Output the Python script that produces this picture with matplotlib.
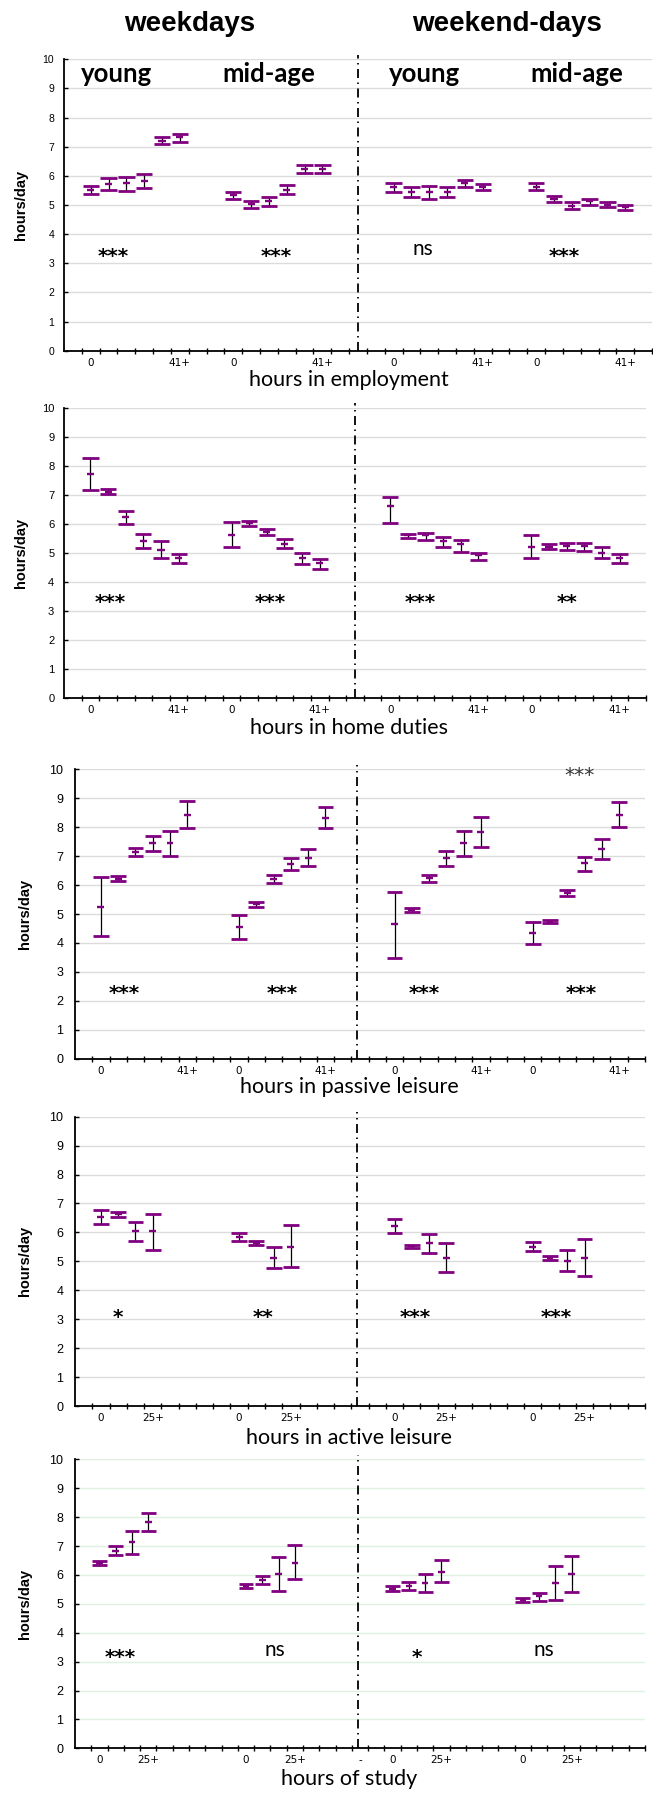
import numpy as np
import matplotlib.pyplot as plt

W, H = 653, 1794
PURPLE = '#800080'

# group order in every panel: young weekdays, mid-age weekdays, young weekend-days, mid-age weekend-days

# hours in employment (6 bands, 0 ... 41+)
emp_mean = [[5.51, 5.73, 5.75, 5.84, 7.21, 7.32],
            [5.33, 5.05, 5.14, 5.53, 6.24, 6.24],
            [5.61, 5.45, 5.46, 5.45, 5.74, 5.62],
            [5.62, 5.21, 4.98, 5.13, 5.01, 4.92]]
emp_lo = [[5.38, 5.53, 5.48, 5.58, 7.08, 7.17],
          [5.21, 4.89, 4.95, 5.38, 6.11, 6.11],
          [5.46, 5.26, 5.21, 5.26, 5.61, 5.51],
          [5.50, 5.10, 4.86, 5.01, 4.93, 4.82]]
emp_hi = [[5.66, 5.93, 5.96, 6.08, 7.35, 7.45],
          [5.43, 5.15, 5.27, 5.70, 6.38, 6.38],
          [5.76, 5.62, 5.65, 5.62, 5.86, 5.73],
          [5.76, 5.31, 5.09, 5.19, 5.10, 4.99]]

# hours in home duties (6 bands, 0 ... 41+)
home_mean = [[7.72, 7.11, 6.23, 5.42, 5.10, 4.84],
             [5.63, 6.02, 5.73, 5.32, 4.84, 4.64],
             [6.61, 5.61, 5.63, 5.41, 5.32, 4.94],
             [5.22, 5.21, 5.23, 5.23, 5.01, 4.84]]
home_lo = [[7.18, 7.03, 6.01, 5.18, 4.84, 4.67],
           [5.22, 5.92, 5.61, 5.17, 4.63, 4.45],
           [6.02, 5.53, 5.46, 5.20, 5.02, 4.76],
           [4.84, 5.14, 5.10, 5.08, 4.84, 4.67]]
home_hi = [[8.28, 7.20, 6.43, 5.65, 5.42, 4.97],
           [6.06, 6.11, 5.84, 5.49, 5.00, 4.79],
           [6.92, 5.65, 5.70, 5.56, 5.44, 4.99],
           [5.62, 5.31, 5.33, 5.33, 5.22, 4.98]]

# hours in passive leisure (6 bands, 0 ... 41+)
pas_mean = [[5.24, 6.21, 7.13, 7.45, 7.45, 8.42],
            [4.55, 5.35, 6.22, 6.74, 6.94, 8.32],
            [4.65, 5.14, 6.23, 6.92, 7.44, 7.82],
            [4.34, 4.73, 5.74, 6.75, 7.26, 8.42]]
pas_lo = [[4.23, 6.14, 6.99, 7.18, 7.02, 7.97],
          [4.12, 5.25, 6.08, 6.53, 6.65, 7.96],
          [3.49, 5.07, 6.11, 6.67, 6.99, 7.30],
          [3.95, 4.69, 5.63, 6.50, 6.89, 8.01]]
pas_hi = [[6.27, 6.33, 7.27, 7.70, 7.88, 8.91],
          [4.98, 5.41, 6.36, 6.92, 7.25, 8.70],
          [5.77, 5.22, 6.36, 7.17, 7.88, 8.36],
          [4.72, 4.79, 5.84, 6.96, 7.59, 8.86]]

# hours in active leisure (4 bands, 0 ... 25+)
act_mean = [[6.53, 6.62, 6.04, 6.04],
            [5.83, 5.63, 5.13, 5.51],
            [6.21, 5.52, 5.62, 5.13],
            [5.51, 5.13, 5.02, 5.13]]
act_lo = [[6.28, 6.53, 5.69, 5.40],
          [5.69, 5.56, 4.77, 4.80],
          [5.99, 5.47, 5.30, 4.63],
          [5.36, 5.05, 4.67, 4.49]]
act_hi = [[6.79, 6.71, 6.36, 6.64],
          [5.97, 5.69, 5.48, 6.26],
          [6.46, 5.58, 5.93, 5.62],
          [5.66, 5.20, 5.38, 5.76]]

# hours of study (4 bands, 0 ... 25+)
study_mean = [[6.42, 6.83, 7.13, 7.84],
              [5.62, 5.84, 6.04, 6.42],
              [5.52, 5.63, 5.73, 6.11],
              [5.13, 5.27, 5.73, 6.04]]
study_lo = [[6.34, 6.68, 6.74, 7.52],
            [5.55, 5.67, 5.46, 5.85],
            [5.46, 5.49, 5.41, 5.77],
            [5.06, 5.11, 5.13, 5.42]]
study_hi = [[6.49, 6.99, 7.52, 8.15],
            [5.67, 5.97, 6.61, 7.02],
            [5.62, 5.76, 6.04, 6.51],
            [5.20, 5.39, 6.32, 6.64]]

xlabels = ['hours in employment', 'hours in home duties', 'hours in passive leisure',
           'hours in active leisure', 'hours of study']
last_band = ['41+', '41+', '41+', '25+', '25+']
signif = [['***', '***', 'ns', '***'],
          ['***', '***', '***', '**'],
          ['***', '***', '***', '***'],
          ['*', '**', '***', '***'],
          ['***', 'ns', '*', 'ns']]

means = [emp_mean, home_mean, pas_mean, act_mean, study_mean]
los = [emp_lo, home_lo, pas_lo, act_lo, study_lo]
his = [emp_hi, home_hi, pas_hi, act_hi, study_hi]

# layout, in pixels of the 653x1794 figure
boxes = [(64, 652, 59.3, 350.7), (64, 646, 407.7, 698.3), (75, 645, 769.3, 1058.7),
         (75, 645, 1116.7, 1406.0), (75, 645, 1459.3, 1748.3)]
n_slots = [33, 33, 33, 33, 35]
starts = [[1, 9, 18, 26]] * 4 + [[1, 10, 19, 27]]
divider = [16.5, 16.5, 16.35, 16.35, 17.35]
ytick_fs = [7.5, 8, 9, 9, 9]
ylab_x = [21, 21, 25, 25, 25]
xlab_y = [380, 728, 1087, 1438, 1779]
sig_x = [[2.75, 11.9, 20.15, 28.1], [2.6, 11.7, 20.2, 28.5], [2.84, 12.0, 20.2, 29.3],
         [2.5, 10.9, 19.7, 27.85], [2.76, 12.3, 21.0, 28.8]]
sig_y = [3.45, 3.5, 2.45, 3.27, 3.35]
grid_col = ['#dcdcdc'] * 4 + ['#dff2df']

fig = plt.figure(figsize=(W / 100, H / 100), dpi=100)


def fx(x):
    return x / W


def fy(y):
    return 1 - y / H


for i in range(5):
    left, right, top, bottom = boxes[i]
    ax = fig.add_axes([fx(left), fy(bottom), (right - left) / W, (bottom - top) / H])
    n = n_slots[i]
    ax.set_xlim(0, n)
    ax.set_ylim(0, 10)

    for g in range(4):
        m = np.array(means[i][g])
        lo = np.array(los[i][g])
        hi = np.array(his[i][g])
        x = starts[i][g] + 0.5 + np.arange(len(m))
        ax.vlines(x, lo, hi, color='black', lw=0.9, zorder=3)
        ax.hlines(hi, x - 0.46, x + 0.46, color=PURPLE, lw=2.0, zorder=4)
        ax.hlines(lo, x - 0.46, x + 0.46, color=PURPLE, lw=2.0, zorder=4)
        ax.hlines(m, x - 0.2, x + 0.2, color=PURPLE, lw=1.7, zorder=4)

        txt = signif[i][g]
        if txt == 'ns':
            ax.text(sig_x[i][g], sig_y[i] + 0.05, txt, ha='center', va='center',
                    family='Lato', fontsize=15)
        else:
            # asterisks sit high in the em box: anchor on the baseline
            ax.text(sig_x[i][g], sig_y[i] - 0.4, txt, ha='center', va='baseline',
                    family='DejaVu Sans', fontweight='bold', fontsize=14.5)

    # dash-dot divider between weekdays and weekend-days
    ax.plot([divider[i], divider[i]], [0, 10.15], color='black', lw=1.3,
            dashes=(5, 2.5, 0.8, 2.5), clip_on=False, zorder=2)

    ax.set_yticks(range(11))
    ax.yaxis.grid(True, color=grid_col[i], lw=1)
    ax.set_axisbelow(True)
    ax.tick_params(axis='y', direction='in', length=3, width=1, labelsize=ytick_fs[i],
                   pad=7 if i < 2 else 8.5)
    for lab in ax.get_yticklabels():
        lab.set_family('Liberation Sans')

    # category labels under first and last band of each group
    nb = len(means[i][0])
    pos, labs = [], []
    for s in starts[i]:
        pos += [s + 0.5, s + nb - 0.5]
        labs += ['0', last_band[i]]
    if i == 4:
        pos.append(17.5)
        labs.append('-')
    ax.set_xticks(pos)
    ax.set_xticklabels(labs, family='DejaVu Sans', fontsize=7.5)
    ax.tick_params(axis='x', which='major', length=0, pad=5)
    ax.set_xticks(np.arange(1, n + 1), minor=True)
    ax.tick_params(axis='x', which='minor', direction='inout', length=4, width=1)

    for side in ['top', 'right']:
        ax.spines[side].set_visible(False)
    for side in ['left', 'bottom']:
        ax.spines[side].set_linewidth(1.3)

    fig.text(fx(349), fy(xlab_y[i]), xlabels[i], ha='center', va='center',
             family='Lato', fontsize=15.5)
    fig.text(fx(ylab_x[i]), fy((top + bottom) / 2), 'hours/day', rotation=90,
             ha='center', va='center', family='Liberation Sans', fontweight='bold',
             fontsize=10.5)

    if i == 0:
        for xc, name in zip([117, 269, 425, 577], ['young', 'mid-age', 'young', 'mid-age']):
            fig.text(fx(xc), fy(82), name, ha='center', va='baseline', family='Lato',
                     fontweight='bold', fontsize=18.5)
    if i == 2:
        ax.text(29.2, 9.98 - 0.4, '***', ha='center', va='baseline', family='DejaVu Sans',
                fontsize=14.5, color='#333333')

fig.text(fx(190), fy(24), 'weekdays', ha='center', va='center', family='Liberation Sans',
         fontweight='bold', fontsize=20)
fig.text(fx(507), fy(24), 'weekend-days', ha='center', va='center',
         family='Liberation Sans', fontweight='bold', fontsize=20)

fig.savefig('out.png', dpi=100)
